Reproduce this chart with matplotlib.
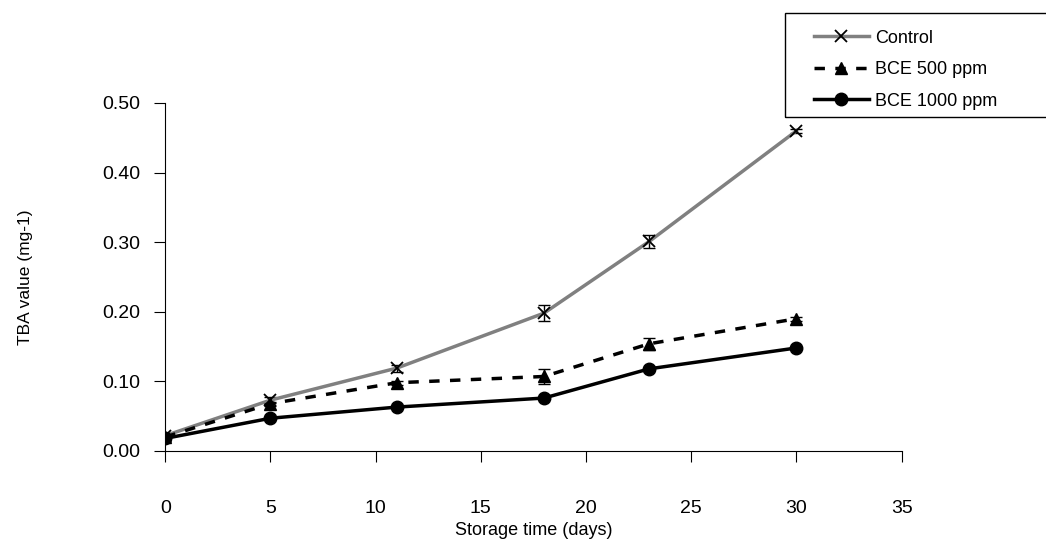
import matplotlib.pyplot as plt
from matplotlib.patches import Rectangle

plt.rcParams['font.family'] = ['Liberation Sans', 'DejaVu Sans']

days = [0, 5, 11, 18, 23, 30]
control = [0.022, 0.073, 0.119, 0.198, 0.301, 0.460]
control_err = [0.003, 0.004, 0.005, 0.011, 0.010, 0.003]
bce500 = [0.020, 0.068, 0.098, 0.107, 0.154, 0.190]
bce500_err = [0.002, 0.003, 0.003, 0.011, 0.009, 0.003]
bce1000 = [0.018, 0.047, 0.063, 0.076, 0.118, 0.148]
bce1000_err = [0.002, 0.002, 0.002, 0.002, 0.003, 0.002]

fig = plt.figure(figsize=(10.46, 5.42), dpi=100)
ax = fig.add_axes([0.158, 0.168, 0.704, 0.642])

# error bars first, lines on top
for y, e in [(control, control_err), (bce500, bce500_err), (bce1000, bce1000_err)]:
    ax.errorbar(days, y, yerr=e, fmt='none', ecolor='black', elinewidth=1, capsize=4)

ax.plot(days, control, color='#808080', lw=2.5, marker='x', ms=8,
        mec='black', mew=1.3, label='Control')
ax.plot(days, bce500, color='black', lw=2.5, ls=(0, (3, 3)), marker='^', ms=8,
        label='BCE 500 ppm')
ax.plot(days, bce1000, color='black', lw=2.5, marker='o', ms=9,
        label='BCE 1000 ppm')

ax.set_xlim(0, 35)
ax.set_ylim(0, 0.5)
ax.set_xticks(range(0, 36, 5))
ax.set_yticks([0, 0.1, 0.2, 0.3, 0.4, 0.5])
ax.set_yticklabels(['0.00', '0.10', '0.20', '0.30', '0.40', '0.50'])
ax.tick_params(axis='x', direction='out', length=8, pad=27, labelsize=14)
ax.tick_params(axis='y', direction='out', length=8, pad=10, labelsize=14)
ax.spines['top'].set_visible(False)
ax.spines['right'].set_visible(False)
ax.set_xlabel('Storage time (days)', fontsize=13)
ax.xaxis.set_label_coords(0.5, -0.205)
ax.set_ylabel('TBA value (mg-1)', fontsize=12.5)
ax.yaxis.set_label_coords(-0.18, 0.5)

# legend box runs off the right edge like the original
fig.patches.append(Rectangle((785 / 1046, 1 - 117 / 542), 0.3, 104 / 542,
                             transform=fig.transFigure, fill=False,
                             edgecolor='black', lw=1))
fig.legend(loc='upper left', bbox_to_anchor=(0.763, 0.975), fontsize=13,
           frameon=False, handlelength=3.0, handletextpad=0.35,
           labelspacing=0.8)

fig.savefig('out.png', dpi=100)
